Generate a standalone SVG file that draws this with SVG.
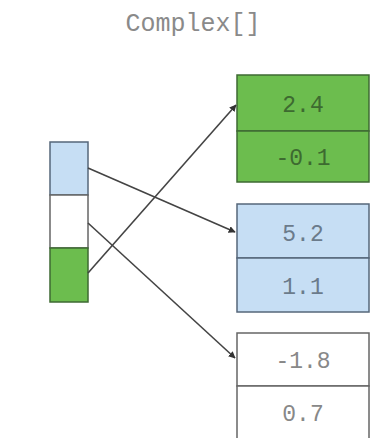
<svg xmlns="http://www.w3.org/2000/svg" width="381" height="438" viewBox="0 0 381 438">
<defs>
<style>
.t{font-family:"Liberation Mono","Courier New",monospace;font-size:23px;text-anchor:middle}
.g{fill:#6cbd4e;stroke:#3e6a33;stroke-width:1.5}
.b{fill:#c6def4;stroke:#56677a;stroke-width:1.5}
.w{fill:#ffffff;stroke:#666;stroke-width:1.5}
.c{stroke:#444;stroke-width:1.6;fill:none;marker-end:url(#ah)}
</style>
<marker id="ah" viewBox="0 0 10 10" refX="9" refY="5" markerWidth="7" markerHeight="7" markerUnits="userSpaceOnUse" orient="auto">
<path d="M0,0 L10,5 L0,10 z" fill="#333"/>
</marker>
</defs>
<rect width="381" height="438" fill="#fff"/>
<text class="t" x="193" y="31" fill="#8a8a8a" style="font-size:25px">Complex[]</text>
<g id="array">
<rect class="b" x="50" y="142" width="38" height="53"/>
<rect class="w" x="50" y="195" width="38" height="53"/>
<rect class="g" x="50" y="248" width="38" height="54"/>
</g>
<g id="c1">
<rect class="g" x="237" y="75" width="132" height="56"/>
<rect class="g" x="237" y="131" width="132" height="51"/>
<text class="t" x="303" y="112" fill="#3d6a30">2.4</text>
<text class="t" x="303" y="165" fill="#3d6a30">-0.1</text>
</g>
<g id="c2">
<rect class="b" x="237" y="204" width="132" height="54"/>
<rect class="b" x="237" y="258" width="132" height="54"/>
<text class="t" x="303" y="241" fill="#6b7b8b">5.2</text>
<text class="t" x="303" y="294" fill="#6b7b8b">1.1</text>
</g>
<g id="c3">
<rect class="w" x="237" y="333" width="132" height="53"/>
<rect class="w" x="237" y="386" width="132" height="60"/>
<text class="t" x="303" y="368" fill="#888">-1.8</text>
<text class="t" x="303" y="421" fill="#888">0.7</text>
</g>
<g id="connectors">
<line class="c" x1="88" y1="168" x2="235" y2="232"/>
<line class="c" x1="88" y1="223" x2="235" y2="358"/>
<line class="c" x1="88" y1="273" x2="236" y2="105"/>
</g>
</svg>
